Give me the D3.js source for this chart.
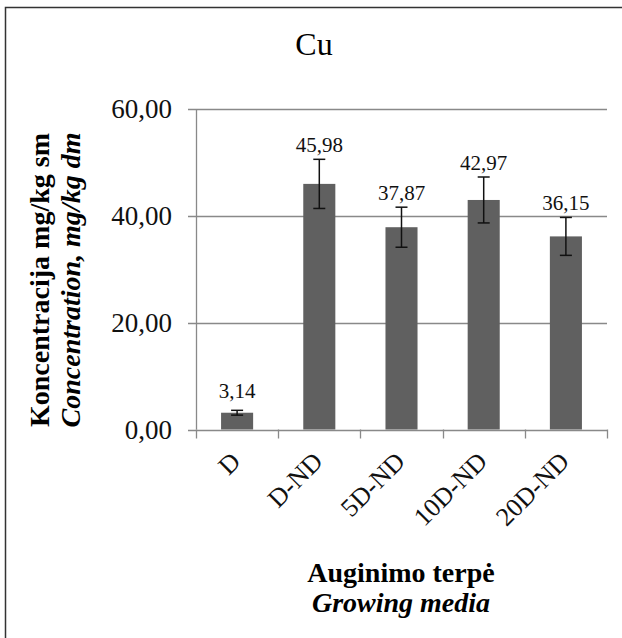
<!DOCTYPE html>
<html>
<head>
<meta charset="utf-8">
<script src="https://cdn.jsdelivr.net/npm/d3@7"></script>
<style>
  body { margin: 0; background: #fff; }
</style>
</head>
<body>
<div id="chart"></div>
<script>
const categories = ['D', 'D-ND', '5D-ND', '10D-ND', '20D-ND'];
const values = [3.14, 45.98, 37.87, 42.97, 36.15];
const errors = [0.45, 4.6, 3.75, 4.3, 3.55];
const yTicks = [0, 20, 40, 60];
const chartTitle = 'Cu';
const yTitle = ['Koncentracija mg/kg sm', 'Concentration, mg/kg dm'];
const xTitle = ['Auginimo terpė', 'Growing media'];

const width = 622, height = 638;
const fmt = v => d3.format('.2f')(v).replace('.', ',');

const svg = d3.select('#chart')
  .append('svg')
  .attr('width', width)
  .attr('height', height)
  .attr('font-family', 'Liberation Serif')
  .style('display', 'block');

// outer frame (runs off the right and bottom edges)
svg.append('rect')
  .attr('x', 5.5).attr('y', 7.5)
  .attr('width', 640).attr('height', 660)
  .attr('fill', 'none')
  .attr('stroke', '#333')
  .attr('stroke-width', 1.5);

const x = d3.scaleBand()
  .domain(categories)
  .range([196, 607])
  .paddingInner(0.61)
  .paddingOuter(0.305);

const y = d3.scaleLinear()
  .domain([0, 60])
  .range([429.5, 109]);

const grid = '#898989';

// gridlines + y ticks
svg.append('g')
  .selectAll('line')
  .data(yTicks)
  .join('line')
  .attr('x1', 188).attr('x2', 607)
  .attr('y1', d => Math.round(y(d)) + 0.5)
  .attr('y2', d => Math.round(y(d)) + 0.5)
  .attr('stroke', grid)
  .attr('stroke-width', 1.3);

// y axis line
svg.append('line')
  .attr('x1', 196.5).attr('x2', 196.5)
  .attr('y1', y(60)).attr('y2', y(0))
  .attr('stroke', grid)
  .attr('stroke-width', 1.3);

// x ticks at band boundaries
const bounds = categories.map(c => x(c) - x.step() * x.paddingInner() / 2);
bounds.push(607);
bounds[0] = 196;
svg.append('g')
  .selectAll('line')
  .data(bounds)
  .join('line')
  .attr('x1', d => Math.round(d) + 0.5)
  .attr('x2', d => Math.round(d) + 0.5)
  .attr('y1', y(0)).attr('y2', y(0) + 9)
  .attr('stroke', grid)
  .attr('stroke-width', 1.3);

// y tick labels
svg.append('g')
  .selectAll('text')
  .data(yTicks)
  .join('text')
  .attr('x', 172)
  .attr('y', d => y(d) + 9)
  .attr('text-anchor', 'end')
  .attr('font-size', 27)
  .attr('fill', '#111')
  .text(fmt);

// bars
svg.append('g')
  .selectAll('rect')
  .data(values)
  .join('rect')
  .attr('x', (d, i) => x(categories[i]))
  .attr('width', x.bandwidth())
  .attr('y', d => y(d))
  .attr('height', d => y(0) - y(d))
  .attr('fill', '#606060');

// error bars
const eb = svg.append('g').attr('stroke', '#111').attr('stroke-width', 1.5);
values.forEach((v, i) => {
  const cx = x(categories[i]) + x.bandwidth() / 2;
  const top = y(v + errors[i]), bot = y(v - errors[i]);
  eb.append('line').attr('x1', cx).attr('x2', cx).attr('y1', top).attr('y2', bot);
  eb.append('line').attr('x1', cx - 6).attr('x2', cx + 6).attr('y1', top).attr('y2', top);
  eb.append('line').attr('x1', cx - 6).attr('x2', cx + 6).attr('y1', bot).attr('y2', bot);
});

// value labels
svg.append('g')
  .selectAll('text')
  .data(values)
  .join('text')
  .attr('x', (d, i) => x(categories[i]) + x.bandwidth() / 2)
  .attr('y', (d, i) => Math.min(y(d + errors[i]) - 7, y(d) - 15))
  .attr('text-anchor', 'middle')
  .attr('font-size', 21)
  .attr('fill', '#111')
  .text(fmt);

// category labels
svg.append('g')
  .selectAll('text')
  .data(categories)
  .join('text')
  .attr('transform', d => `translate(${x(d) + x.bandwidth() / 2 + 5},463) rotate(-45)`)
  .attr('text-anchor', 'end')
  .attr('font-size', 26)
  .attr('fill', '#111')
  .text(d => d);

// chart title
svg.append('text')
  .attr('x', 314).attr('y', 55)
  .attr('text-anchor', 'middle')
  .attr('font-size', 32)
  .text(chartTitle);

// y axis title
svg.append('text')
  .attr('transform', 'translate(49,280) rotate(-90)')
  .attr('text-anchor', 'middle')
  .attr('font-size', 28)
  .attr('font-weight', 'bold')
  .text(yTitle[0]);
svg.append('text')
  .attr('transform', 'translate(80,280) rotate(-90)')
  .attr('text-anchor', 'middle')
  .attr('font-size', 28)
  .attr('font-weight', 'bold')
  .attr('font-style', 'italic')
  .text(yTitle[1]);

// x axis title
svg.append('text')
  .attr('x', 401).attr('y', 582)
  .attr('text-anchor', 'middle')
  .attr('font-size', 28)
  .attr('font-weight', 'bold')
  .text(xTitle[0]);
svg.append('text')
  .attr('x', 401).attr('y', 612)
  .attr('text-anchor', 'middle')
  .attr('font-size', 28)
  .attr('font-weight', 'bold')
  .attr('font-style', 'italic')
  .text(xTitle[1]);
</script>
</body>
</html>
